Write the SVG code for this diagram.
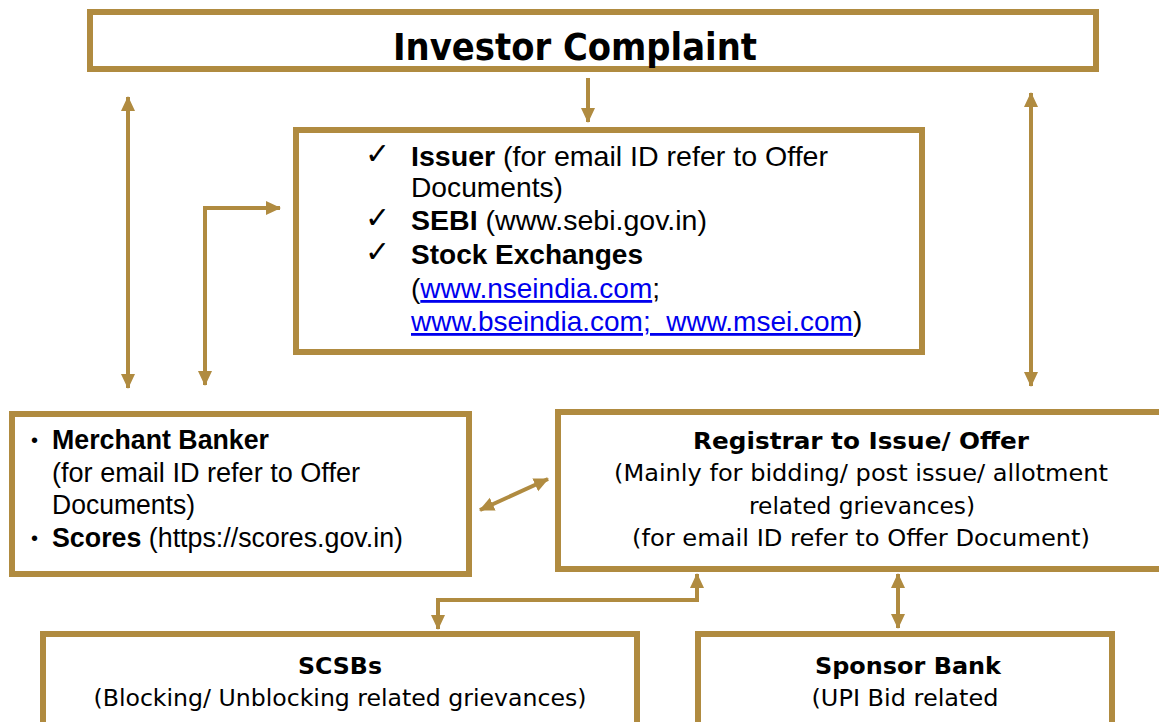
<svg xmlns="http://www.w3.org/2000/svg" width="1159" height="722" viewBox="0 0 1159 722">
<style>
.box{fill:#fff;stroke:#B08B40;stroke-width:6}
.ln{fill:none;stroke:#B08B40;stroke-width:4}
.t{font-family:"DejaVu Sans",sans-serif;fill:#000}
.a{font-family:"Liberation Sans",Arial,sans-serif;fill:#000}
.b{font-weight:bold}
.lk{fill:#0000EE;text-decoration:underline}
.ck{font-family:"DejaVu Sans",sans-serif;font-size:30px;font-weight:normal}
.bl{font-size:20px}
</style>
<defs>
<marker id="ah" markerUnits="userSpaceOnUse" markerWidth="16" markerHeight="16" viewBox="0 0 16 16" refX="14" refY="8" orient="auto-start-reverse">
<path d="M0,1 L15,8 L0,15 z" fill="#B08B40"/>
</marker>
</defs>
<rect width="1159" height="722" fill="#fff"/>
<g id="connectors">
<line class="ln" x1="588" y1="78" x2="588" y2="122" marker-end="url(#ah)"/>
<line class="ln" x1="128" y1="97" x2="128" y2="388" marker-start="url(#ah)" marker-end="url(#ah)"/>
<line class="ln" x1="1031" y1="93" x2="1031" y2="386" marker-start="url(#ah)" marker-end="url(#ah)"/>
<polyline class="ln" points="205,385 205,208 280,208" marker-start="url(#ah)" marker-end="url(#ah)"/>
<line class="ln" x1="480" y1="510" x2="548" y2="479" marker-start="url(#ah)" marker-end="url(#ah)"/>
<polyline class="ln" points="697,574 697,600 438,600 438,629" marker-start="url(#ah)" marker-end="url(#ah)"/>
<line class="ln" x1="898" y1="574" x2="898" y2="628" marker-start="url(#ah)" marker-end="url(#ah)"/>
</g>
<g id="investor-complaint">
<rect class="box" x="90" y="12" width="1006" height="57"/>
<text class="t b" x="575" y="60" font-size="37" text-anchor="middle" textLength="364" lengthAdjust="spacingAndGlyphs">Investor Complaint</text>
</g>
<g id="issuer-sebi">
<rect class="box" x="296" y="130" width="626" height="222"/>
<g class="a" font-size="28">
<text class="ck" x="365" y="164">✓</text>
<text x="411" y="166" textLength="417" lengthAdjust="spacingAndGlyphs"><tspan class="b">Issuer</tspan> (for email ID refer to Offer</text>
<text x="411" y="197" textLength="152" lengthAdjust="spacingAndGlyphs">Documents)</text>
<text class="ck" x="365" y="228">✓</text>
<text x="411" y="230" textLength="296" lengthAdjust="spacingAndGlyphs"><tspan class="b">SEBI</tspan> (www.sebi.gov.in)</text>
<text class="ck" x="365" y="262">✓</text>
<text x="411" y="264" class="b" textLength="232" lengthAdjust="spacingAndGlyphs">Stock Exchanges</text>
<text x="411" y="298">(<tspan class="lk">www.nseindia.com</tspan>;</text>
<text x="411" y="331"><tspan class="lk">www.bseindia.com;&#160; www.msei.com</tspan>)</text>
</g>
</g>
<g id="merchant-banker">
<rect class="box" x="12" y="414" width="457" height="160"/>
<g class="a" font-size="27">
<text class="bl" x="31" y="447">•</text>
<text x="52" y="449" class="b" textLength="217" lengthAdjust="spacingAndGlyphs">Merchant Banker</text>
<text x="52" y="482" textLength="308" lengthAdjust="spacingAndGlyphs">(for email ID refer to Offer</text>
<text x="52" y="514" textLength="143" lengthAdjust="spacingAndGlyphs">Documents)</text>
<text class="bl" x="31" y="545">•</text>
<text x="52" y="547" textLength="351" lengthAdjust="spacingAndGlyphs"><tspan class="b">Scores</tspan> (https://scores.gov.in)</text>
</g>
</g>
<g id="registrar">
<rect class="box" x="558" y="412" width="620" height="157"/>
<g class="t" font-size="23" text-anchor="middle">
<text class="b" x="861" y="449" textLength="336" lengthAdjust="spacingAndGlyphs">Registrar to Issue/ Offer</text>
<text x="861" y="481" textLength="494" lengthAdjust="spacingAndGlyphs">(Mainly for bidding/ post issue/ allotment</text>
<text x="862" y="514" textLength="226" lengthAdjust="spacingAndGlyphs">related grievances)</text>
<text x="861" y="546" textLength="458" lengthAdjust="spacingAndGlyphs">(for email ID refer to Offer Document)</text>
</g>
</g>
<g id="scsbs">
<rect class="box" x="43" y="634" width="594" height="110"/>
<g class="t" font-size="23" text-anchor="middle">
<text class="b" x="340" y="674" textLength="84" lengthAdjust="spacingAndGlyphs">SCSBs</text>
<text x="340" y="706" textLength="493" lengthAdjust="spacingAndGlyphs">(Blocking/ Unblocking related grievances)</text>
</g>
</g>
<g id="sponsor-bank">
<rect class="box" x="698" y="634" width="414" height="110"/>
<g class="t" font-size="23" text-anchor="middle">
<text class="b" x="908" y="674" textLength="186" lengthAdjust="spacingAndGlyphs">Sponsor Bank</text>
<text x="905" y="706" textLength="187" lengthAdjust="spacingAndGlyphs">(UPI Bid related</text>
</g>
</g>
</svg>
